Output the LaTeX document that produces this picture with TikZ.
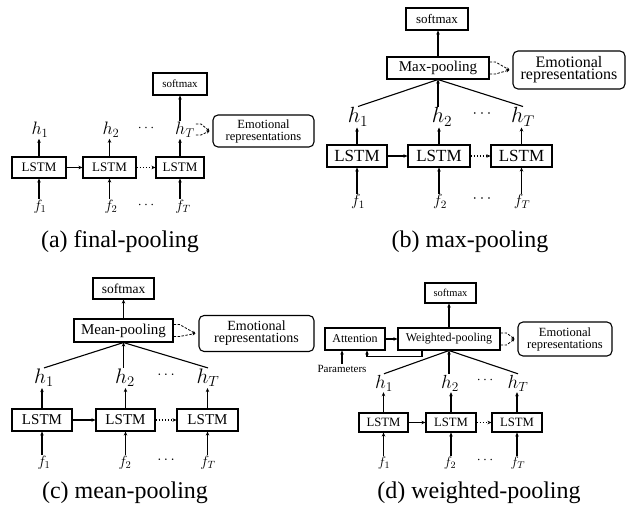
\RequirePackage{fix-cm}
\documentclass[tikz,border=0pt]{standalone}
\usepackage{fontspec}
\setmainfont{Liberation Serif}
\usetikzlibrary{arrows.meta,calc}
\newcommand\fsz[2]{\fontsize{#1}{#2}\selectfont}
\begin{document}
\begin{tikzpicture}[x=1pt,y=-1pt,
  bx/.style={draw, line width=1.1pt, inner sep=0pt},
  emo/.style={draw, line width=1.1pt, rounded corners=5pt, align=center, inner sep=0pt},
  lab/.style={inner sep=1pt},
  arr/.style={-{Stealth[length=4pt,width=3.5pt]}, line width=1.1pt},
  ln/.style={line width=1.1pt},
  dotarr/.style={-{Stealth[length=4pt,width=3.5pt]}, line width=1.1pt, dotted},
  dashlink/.style={-{Stealth[length=3pt,width=3pt]}, line width=0.8pt, dash pattern=on 2.5pt off 1.5pt},
  capt/.style={inner sep=0pt}
]
\useasboundingbox (0,0) rectangle (627,510);

% ================= (a) final-pooling =================
\node[bx, minimum width=54, minimum height=21] (a1) at (39,167.5) {\fsz{13}{15}LSTM};
\node[bx, minimum width=53, minimum height=21] (a2) at (109.5,167.5) {\fsz{13}{15}LSTM};
\node[bx, minimum width=48, minimum height=21] (a3) at (180,167.5) {\fsz{13}{15}LSTM};
\node[bx, minimum width=54, minimum height=22] (asm) at (180,84) {\fsz{11}{13}softmax};
\node[emo, minimum width=101, minimum height=32] (aemo) at (263.5,131) {\fsz{12.5}{14.5}Emotional\\\fsz{12.5}{14.5}representations};
\node[lab] (ah1) at (40,130) {\fsz{18}{20}$h_1$};
\node[lab] (ah2) at (111,130) {\fsz{18}{20}$h_2$};
\node[lab] (ahd) at (146,128) {\fsz{14}{16}$\cdots$};
\node[lab] (ah3) at (185,130) {\fsz{18}{20}$h_T$};
\node[lab] (af1) at (40,207) {\fsz{15}{17}$f_1$};
\node[lab] (af2) at (111,207) {\fsz{15}{17}$f_2$};
\node[lab] (afd) at (146,205) {\fsz{14}{16}$\cdots$};
\node[lab] (af3) at (183,207) {\fsz{15}{17}$f_T$};
\draw[arr] (a1.north) -- (a1.north|-ah1.south);
\draw[arr] (a2.north) -- (a2.north|-ah2.south);
\draw[arr] (a3.north) -- (a3.north|-ah3.south);
\draw[arr] (a3.north|-ah3.north) -- (asm.south);
\draw[arr] (a1.south|-af1.north) -- (a1.south);
\draw[arr] (a2.south|-af2.north) -- (a2.south);
\draw[arr] (a3.south|-af3.north) -- (a3.south);
\draw[arr] (a1.east) -- (a2.west);
\draw[dotarr] (a2.east) -- (a3.west);
\coordinate (am) at ($(aemo.west)+(-3,0)$);
\draw[dashlink] ($(ah3.east)+(0,-6)$) -- ++(5,0) -- (am);
\draw[dashlink] ($(ah3.east)+(0,5)$) -- ++(5,0) -- (am);
\node[capt] (capa) at (120,242) {\fsz{24}{28}(a) final-pooling};

% ================= (b) max-pooling =================
\node[bx, minimum width=60, minimum height=22] (b1) at (357,156) {\fsz{17}{19}LSTM};
\node[bx, minimum width=62, minimum height=22] (b2) at (439,156) {\fsz{17}{19}LSTM};
\node[bx, minimum width=61, minimum height=22] (b3) at (521.5,156) {\fsz{17}{19}LSTM};
\node[bx, minimum width=62, minimum height=22] (bsm) at (437,19) {\fsz{13}{15}softmax};
\node[bx, minimum width=102, minimum height=22] (bpool) at (438,68) {\fsz{15}{17}Max-pooling};
\node[emo, minimum width=112, minimum height=38] (bemo) at (569,70) {\fsz{16}{19.5}Emotional\\\fsz{16}{19.5}representations};
\node[lab] (bh1) at (358,117) {\fsz{22}{24}$h_1$};
\node[lab] (bh2) at (442,117) {\fsz{22}{24}$h_2$};
\node[lab] (bhd) at (482,114) {\fsz{16}{18}$\cdots$};
\node[lab] (bh3) at (523,117) {\fsz{22}{24}$h_T$};
\node[lab] (bf1) at (358,202) {\fsz{16}{18}$f_1$};
\node[lab] (bf2) at (440,202) {\fsz{16}{18}$f_2$};
\node[lab] (bfd) at (482,199) {\fsz{16}{18}$\cdots$};
\node[lab] (bf3) at (522,202) {\fsz{16}{18}$f_T$};
\draw[arr] (b1.north) -- (b1.north|-bh1.south);
\draw[arr] (b2.north) -- (b2.north|-bh2.south);
\draw[arr] (b3.north) -- (b3.north|-bh3.south);
\draw[arr] (b1.south|-bf1.north) -- (b1.south);
\draw[arr] (b2.south|-bf2.north) -- (b2.south);
\draw[arr] (b3.south|-bf3.north) -- (b3.south);
\draw[arr] (b1.east) -- (b2.west);
\draw[dotarr] (b2.east) -- (b3.west);
\draw[ln] (bh1.north) -- (bpool.south);
\draw[ln] (bh3.north) -- (bpool.south);
\draw[arr] (bpool.south|-bh2.north) -- (bpool.south);
\draw[arr] (bpool.north) -- (bsm.south-|bpool.north);
\coordinate (bm) at ($(bemo.west)+(-3,0)$);
\draw[dashlink] ($(bpool.east)+(0,-6)$) -- ++(6,0) -- (bm);
\draw[dashlink] ($(bpool.east)+(0,6)$) -- ++(6,0) -- (bm);
\node[capt] (capb) at (470,242) {\fsz{24}{28}(b) max-pooling};

% ================= (c) mean-pooling =================
\node[bx, minimum width=60, minimum height=22] (c1) at (42,420) {\fsz{15}{17}LSTM};
\node[bx, minimum width=59, minimum height=22] (c2) at (125.5,420) {\fsz{15}{17}LSTM};
\node[bx, minimum width=61, minimum height=22] (c3) at (207.5,420) {\fsz{15}{17}LSTM};
\node[bx, minimum width=61, minimum height=21] (csm) at (123.5,288.5) {\fsz{13.5}{15}softmax};
\node[bx, minimum width=99, minimum height=23] (cpool) at (123.5,330.5) {\fsz{15}{17}Mean-pooling};
\node[emo, minimum width=115, minimum height=36] (cemo) at (256.5,333.5) {\fsz{14}{17}Emotional\\\fsz{14}{17}representations};
\node[lab] (ch1) at (44,378) {\fsz{21}{23}$h_1$};
\node[lab] (ch2) at (125,378) {\fsz{21}{23}$h_2$};
\node[lab] (chd) at (166,375) {\fsz{15}{17}$\cdots$};
\node[lab] (ch3) at (208,378) {\fsz{21}{23}$h_T$};
\node[lab] (cf1) at (44,463) {\fsz{15}{17}$f_1$};
\node[lab] (cf2) at (125,463) {\fsz{15}{17}$f_2$};
\node[lab] (cfd) at (166,460) {\fsz{15}{17}$\cdots$};
\node[lab] (cf3) at (208,463) {\fsz{15}{17}$f_T$};
\draw[arr] (c1.north) -- (c1.north|-ch1.south);
\draw[arr] (c2.north) -- (c2.north|-ch2.south);
\draw[arr] (c3.north) -- (c3.north|-ch3.south);
\draw[arr] (c1.south|-cf1.north) -- (c1.south);
\draw[arr] (c2.south|-cf2.north) -- (c2.south);
\draw[arr] (c3.south|-cf3.north) -- (c3.south);
\draw[arr] (c1.east) -- (c2.west);
\draw[dotarr] (c2.east) -- (c3.west);
\draw[ln] (ch1.north) -- (cpool.south);
\draw[ln] (ch3.north) -- (cpool.south);
\draw[arr] (cpool.south|-ch2.north) -- (cpool.south);
\draw[arr] (cpool.north) -- (csm.south-|cpool.north);
\coordinate (cm) at ($(cemo.west)+(-3,0)$);
\draw[dashlink] ($(cpool.east)+(0,-6)$) -- ++(6,0) -- (cm);
\draw[dashlink] ($(cpool.east)+(0,6)$) -- ++(6,0) -- (cm);
\node[capt] (capc) at (125,493) {\fsz{24}{28}(c) mean-pooling};

% ================= (d) weighted-pooling =================
\node[bx, minimum width=49, minimum height=19] (d1) at (383.5,422.5) {\fsz{12.7}{14}LSTM};
\node[bx, minimum width=50, minimum height=19] (d2) at (451,422.5) {\fsz{12.7}{14}LSTM};
\node[bx, minimum width=50, minimum height=19] (d3) at (517,422.5) {\fsz{12.7}{14}LSTM};
\node[bx, minimum width=51, minimum height=20] (dsm) at (450.5,293) {\fsz{10.5}{12}softmax};
\node[bx, minimum width=102, minimum height=22] (dpool) at (449,339) {\fsz{12}{14}Weighted-pooling};
\node[bx, minimum width=60, minimum height=22] (datt) at (355,339) {\fsz{12}{14}Attention};
\node[emo, minimum width=94, minimum height=34] (demo) at (565,339) {\fsz{12.5}{15}Emotional\\\fsz{12.5}{15}representations};
\node[lab] (dpar) at (342,369) {\fsz{11}{13}Parameters};
\node[lab] (dh1) at (384,383) {\fsz{19}{21}$h_1$};
\node[lab] (dh2) at (450,383) {\fsz{19}{21}$h_2$};
\node[lab] (dhd) at (485,380) {\fsz{14}{16}$\cdots$};
\node[lab] (dh3) at (518,383) {\fsz{19}{21}$h_T$};
\node[lab] (df1) at (384,463) {\fsz{14}{16}$f_1$};
\node[lab] (df2) at (450,463) {\fsz{14}{16}$f_2$};
\node[lab] (dfd) at (485,460) {\fsz{14}{16}$\cdots$};
\node[lab] (df3) at (518,463) {\fsz{14}{16}$f_T$};
\draw[arr] (d1.north) -- (d1.north|-dh1.south);
\draw[arr] (d2.north) -- (d2.north|-dh2.south);
\draw[arr] (d3.north) -- (d3.north|-dh3.south);
\draw[arr] (d1.south|-df1.north) -- (d1.south);
\draw[arr] (d2.south|-df2.north) -- (d2.south);
\draw[arr] (d3.south|-df3.north) -- (d3.south);
\draw[arr] (d1.east) -- (d2.west);
\draw[dotarr] (d2.east) -- (d3.west);
\draw[ln] (dh1.north) -- (dpool.south);
\draw[ln] (dh3.north) -- (dpool.south);
\draw[arr] (dpool.south|-dh2.north) -- (dpool.south);
\draw[arr] (dpool.north) -- (dsm.south-|dpool.north);
\draw[arr] (datt.east) -- (dpool.west);
\draw[arr] ($(dpool.south)+(-27,0)$) -- ++(0,6) -| ($(datt.south)+(12,0)$);
\draw[arr] (dpar.north) -- (dpar.north|-datt.south);
\coordinate (dm) at ($(demo.west)+(-3,0)$);
\draw[dashlink] ($(dpool.east)+(0,-6)$) -- ++(6,0) -- (dm);
\draw[dashlink] ($(dpool.east)+(0,6)$) -- ++(6,0) -- (dm);
\node[capt] (capd) at (479,493) {\fsz{24}{28}(d) weighted-pooling};
\end{tikzpicture}
\end{document}
